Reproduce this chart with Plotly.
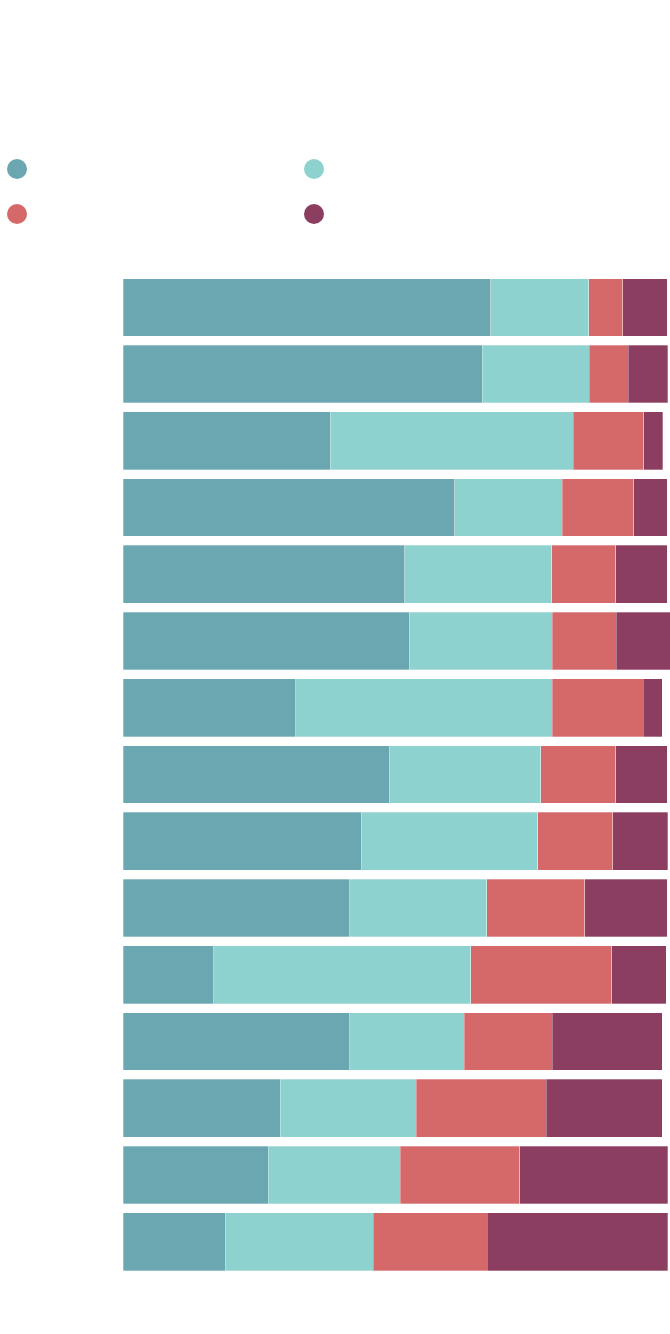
import plotly.graph_objects as go

categories = [f"r{i}" for i in range(1, 16)]
series_a = [67.6, 66.0, 38.1, 61.0, 51.8, 52.6, 31.8, 48.9, 43.8, 41.7, 16.7, 41.7, 28.9, 26.7, 18.8]
series_b = [18.0, 19.7, 44.7, 19.7, 27.0, 26.3, 47.1, 27.9, 32.4, 25.2, 47.2, 21.0, 25.0, 24.3, 27.2]
series_c = [6.3, 7.2, 12.9, 13.2, 11.8, 11.8, 16.7, 13.8, 13.8, 18.0, 25.9, 16.2, 23.9, 21.9, 21.0]
series_d = [8.1, 7.2, 3.5, 6.1, 9.4, 9.9, 3.5, 9.4, 10.1, 15.1, 10.1, 20.2, 21.3, 27.2, 33.1]
colors = ["#6ba7b0", "#8ed2cf", "#d56868", "#8c3e61"]
series = [series_a, series_b, series_c, series_d]

fig = go.Figure()
for vals, col in zip(series, colors):
    fig.add_trace(go.Bar(
        y=categories, x=vals, orientation="h",
        marker=dict(color=col, line=dict(color="rgba(255,255,255,0.6)", width=0.5)),
        showlegend=False, hoverinfo="x",
    ))

FIG_W, FIG_H = 670, 1334
L, T = 123, 274
B = FIG_H - 1275
plot_w = FIG_W - L
plot_h = FIG_H - T - B

# legend dots (no text in reference)
dots = [(17, 169, colors[0]), (314, 169, colors[1]), (17, 214, colors[2]), (314, 214, colors[3])]
shapes = []
for px, py, col in dots:
    xa = (px - L) / plot_w
    ya = (FIG_H - B - py) / plot_h
    shapes.append(dict(type="circle", xref="paper", yref="paper",
                       xsizemode="pixel", ysizemode="pixel",
                       xanchor=xa, yanchor=ya, x0=-10, x1=10, y0=-10, y1=10,
                       fillcolor=col, line=dict(width=0)))

fig.update_layout(
    width=FIG_W, height=FIG_H,
    margin=dict(l=L, r=0, t=T, b=B, pad=0),
    barmode="stack", bargap=0.135,
    plot_bgcolor="white", paper_bgcolor="white",
    xaxis=dict(range=[0, plot_w / 5.44], visible=False, fixedrange=True),
    yaxis=dict(autorange="reversed", visible=False, fixedrange=True),
    shapes=shapes,
    showlegend=False,
)
fig.write_html("out.html",
               config={"displayModeBar": False},
               post_script="document.body.style.margin='0px';document.body.style.overflow='hidden';")
